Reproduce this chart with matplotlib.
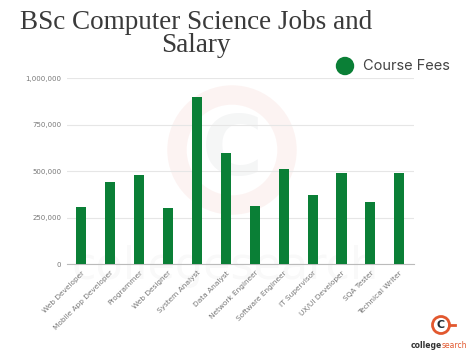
import numpy as np
import matplotlib.pyplot as plt
from matplotlib.patches import Circle

# data
jobs = ["Web Developer", "Mobile App Developer", "Programmer", "Web Designer",
        "System Analyst", "Data Analyst", "Network Engineer", "Software Engineer",
        "IT Supervisor", "UX/UI Developer", "SQA Tester", "Technical Writer"]
salary = [305000, 440000, 480000, 300000, 900000, 600000,
          312000, 510000, 370000, 490000, 335000, 488000]
yticks = [0, 250000, 500000, 750000, 1000000]
ytick_labels = ["0", "250,000", "500,000", "750,000", "1,000,000"]
series_name = "Course Fees"
title = "BSc Computer Science Jobs and\nSalary"

green = "#0a7f36"
grey = "#777777"

fig = plt.figure(figsize=(4.74, 3.55), dpi=100)
fig.patch.set_facecolor("white")

# overlay axes in pixel units (watermark, legend marker, logo)
wm = fig.add_axes([0, 0, 1, 1], zorder=0)
wm.set_xlim(0, 474)
wm.set_ylim(355, 0)
wm.axis("off")
wm.add_patch(Circle((232, 150), 55, fill=False, lw=14, ec="#d9412b", alpha=0.06))
wm.text(232, 152, "C", fontsize=60, fontweight="bold", color="#5a6a75", alpha=0.06,
        ha="center", va="center")
wm.text(225, 266, "collegesearch", fontsize=32, color="#8a8a8a", alpha=0.05,
        ha="center", va="center")

ax = fig.add_axes([0.141, 0.256, 0.732, 0.524], zorder=1)
ax.patch.set_alpha(0)
x = np.arange(len(jobs))
ax.bar(x, salary, width=0.35, color=green, zorder=3)
ax.set_xlim(-0.5, len(jobs) - 0.5)
ax.set_ylim(0, 1000000)
ax.set_yticks(yticks)
ax.set_yticklabels(ytick_labels, fontsize=5, color=grey)
ax.set_xticks(x)
ax.set_xticklabels(jobs, rotation=45, ha="right", rotation_mode="anchor",
                   fontsize=5.3, color=grey)
ax.tick_params(length=0, pad=4)
ax.grid(axis="y", color="#e6e6e6", lw=0.8, zorder=0)
for s in ["top", "right", "left"]:
    ax.spines[s].set_visible(False)
ax.spines["bottom"].set_color("#bbbbbb")
ax.spines["bottom"].set_linewidth(0.8)

# title
fig.text(0.414, 0.972, title, fontsize=19.5, family="Liberation Serif", color="#3a3a3a",
         ha="center", va="top", linespacing=0.9)

# legend
ov = fig.add_axes([0, 0, 1, 1], zorder=2)
ov.set_xlim(0, 474)
ov.set_ylim(355, 0)
ov.axis("off")
ov.add_patch(Circle((345, 66), 8.5, color=green))
ov.text(363, 66, series_name, fontsize=10.5, color="#444444",
        va="center", ha="left", family="Inter")

# logo bottom right
ov.add_patch(Circle((441, 325), 8.5, fill=False, ec="#e2582f", lw=2))
ov.plot([449, 455], [325, 325], color="#e2582f", lw=2)
ov.text(441, 325.5, "C", fontsize=8, fontweight="bold", color="#1f2b33",
        ha="center", va="center")
ov.text(442, 346, "college", fontsize=5.5, color="#333333",
        ha="right", va="center", fontweight="bold")
ov.text(442, 346, "search", fontsize=5.5, color="#e2582f",
        ha="left", va="center")

fig.savefig("out.png", dpi=100)
